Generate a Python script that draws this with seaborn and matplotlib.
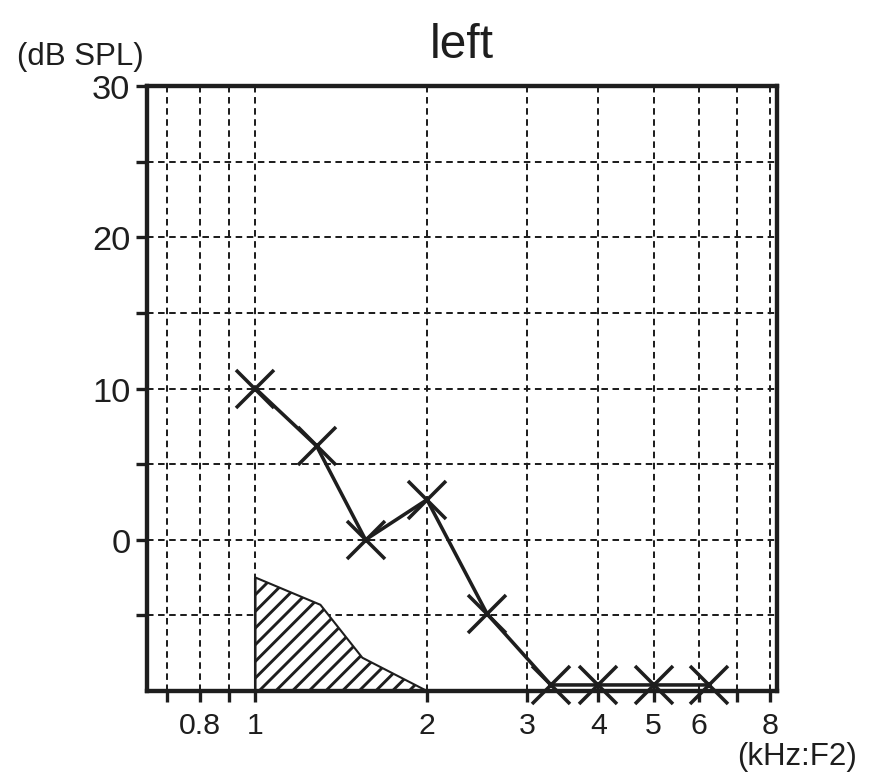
import matplotlib
matplotlib.use("Agg")
import matplotlib.pyplot as plt
import seaborn as sns
import numpy as np
import pandas as pd

# ---- data ----
freq_khz = [1.0, 1.28, 1.56, 2.0, 2.55, 3.3, 4.0, 5.0, 6.25]
level_db = [10.0, 6.2, 0.0, 2.65, -4.9, -9.6, -9.6, -9.6, -9.6]

noise_freq = [1.0, 1.30, 1.54, 2.0]
noise_db = [-2.5, -4.3, -7.8, -10.0]

xtick_vals = [0.7, 0.8, 0.9, 1, 2, 3, 4, 5, 6, 7, 8]
xtick_labels = ["", "0.8", "", "1", "2", "3", "4", "5", "6", "", "8"]
ytick_vals = [-5, 0, 5, 10, 15, 20, 25, 30]
ytick_labels = ["", "0", "", "10", "", "20", "", "30"]

sns.set_theme(style="white")
plt.rcParams["font.family"] = ["Liberation Sans", "DejaVu Sans"]
plt.rcParams["hatch.linewidth"] = 1.4
plt.rcParams["hatch.color"] = "#1e1e1e"

DPI = 150
fig = plt.figure(figsize=(879 / DPI, 776 / DPI), dpi=DPI)
ax = fig.add_axes([147 / 879, 84 / 776, 630 / 879, 605 / 776])

df = pd.DataFrame({"f": freq_khz, "db": level_db})

ax.set_xscale("log")
ax.set_xlim(0.645, 8.23)
ax.set_ylim(-10, 30)

# hatched region
ax.fill_between(noise_freq, noise_db, -10, facecolor="white",
                edgecolor="#1e1e1e", hatch="///", linewidth=1.0, zorder=2)
ax.plot([noise_freq[0], noise_freq[0]], [noise_db[0], -10], color="#1e1e1e", lw=1.0, zorder=3)

sns.lineplot(data=df, x="f", y="db", ax=ax, color="#1e1e1e", lw=1.7,
             marker="x", markersize=18, markeredgewidth=1.7,
             markeredgecolor="#1e1e1e", clip_on=False, zorder=4, sort=False)

ax.set_xticks(xtick_vals)
ax.set_xticklabels(xtick_labels)
ax.xaxis.set_minor_locator(matplotlib.ticker.NullLocator())
ax.set_yticks(ytick_vals)
ax.set_yticklabels(ytick_labels)

ax.tick_params(axis="x", which="both", direction="out", length=5.5, width=1.6,
               labelsize=14.5, pad=4, colors="#1e1e1e", bottom=True)
ax.tick_params(axis="y", direction="out", length=5.5, width=1.6,
               labelsize=16.5, pad=2.4, colors="#1e1e1e", left=True)

ax.grid(True, which="major", color="#1e1e1e", linewidth=0.95,
        linestyle=(0, (3.3, 2.3)))
ax.set_axisbelow(True)

for s in ax.spines.values():
    s.set_visible(True)
    s.set_linewidth(2.1)
    s.set_color("#1e1e1e")

ax.set_xlabel("")
ax.set_ylabel("")
ax.set_title("left", fontsize=23, pad=14, color="#1e1e1e")

fig.text(80 / 879, 1 - 57 / 776, "(dB SPL)", fontsize=15, ha="center",
         va="center", color="#1e1e1e")
fig.text(797 / 879, 1 - 757 / 776, "(kHz:F2)", fontsize=15, ha="center",
         va="center", color="#1e1e1e")

fig.savefig("out.png", dpi=DPI)
